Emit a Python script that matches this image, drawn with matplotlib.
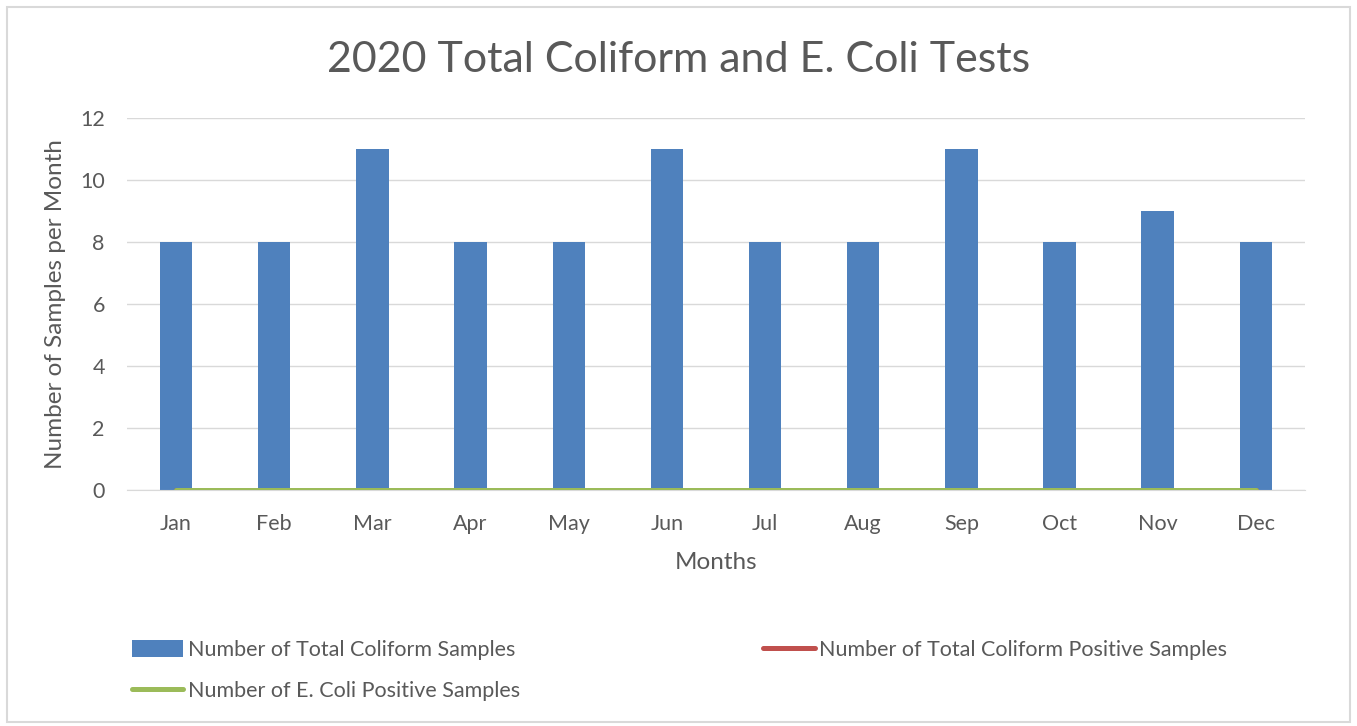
import matplotlib
matplotlib.use("Agg")
import matplotlib.pyplot as plt
import numpy as np
from matplotlib.patches import Rectangle

# monthly sample counts
months = ['Jan', 'Feb', 'Mar', 'Apr', 'May', 'Jun', 'Jul', 'Aug', 'Sep', 'Oct', 'Nov', 'Dec']
total_coliform = [8, 8, 11, 8, 8, 11, 8, 8, 11, 8, 9, 8]
tc_positive = [0, 0, 0, 0, 0, 0, 0, 0, 0, 0, 0, 0]
ecoli_positive = [0, 0, 0, 0, 0, 0, 0, 0, 0, 0, 0, 0]

plt.rcParams['font.family'] = ['Lato', 'DejaVu Sans']
txt = '#595959'

fig = plt.figure(figsize=(13.57, 7.26), dpi=100)
fig.patches.append(Rectangle((0.005, 0.005), 0.99, 0.985, transform=fig.transFigure,
                             fill=False, edgecolor='#d9d9d9', linewidth=1.5))
ax = fig.add_axes([0.0936, 0.325, 0.868, 0.5125])

x = np.arange(len(months))
bars = ax.bar(x, total_coliform, width=0.33, color='#4f81bd', zorder=2,
              label='Number of Total Coliform Samples')
red, = ax.plot(x, tc_positive, color='#c0504d', linewidth=3.6, solid_capstyle='round',
               zorder=3, label='Number of Total Coliform Positive Samples')
green, = ax.plot(x, ecoli_positive, color='#9bbb59', linewidth=3.6, solid_capstyle='round',
                 zorder=4, label='Number of E. Coli Positive Samples')

ax.set_xlim(-0.5, 11.5)
ax.set_ylim(0, 12)
ax.set_yticks(range(0, 13, 2))
ax.set_xticks(x)
ax.set_xticklabels(months)
ax.grid(axis='y', color='#d9d9d9', linewidth=1, zorder=0)
ax.set_axisbelow(True)
for s in ['top', 'right', 'left']:
    ax.spines[s].set_visible(False)
ax.spines['bottom'].set_color('#d9d9d9')
ax.tick_params(length=0, labelsize=15.5, colors=txt)
ax.tick_params(axis='x', pad=17)
ax.tick_params(axis='y', pad=16)

ax.set_xlabel('Months', fontsize=17.5, color=txt, labelpad=13)
ax.set_ylabel('Number of Samples per Month', fontsize=17.5, color=txt, labelpad=10)
fig.suptitle('2020 Total Coliform and E. Coli Tests', fontsize=31, color=txt, y=0.944)

leg = fig.legend(handles=[bars, green, red], loc='upper left', bbox_to_anchor=(0.0828, 0.145),
                 ncol=2, frameon=False, fontsize=15.5, handlelength=2.4, handleheight=0.8,
                 handletextpad=0.2, columnspacing=11.3, labelspacing=0.95,
                 labelcolor=txt)

fig.savefig('out.png', dpi=100)
